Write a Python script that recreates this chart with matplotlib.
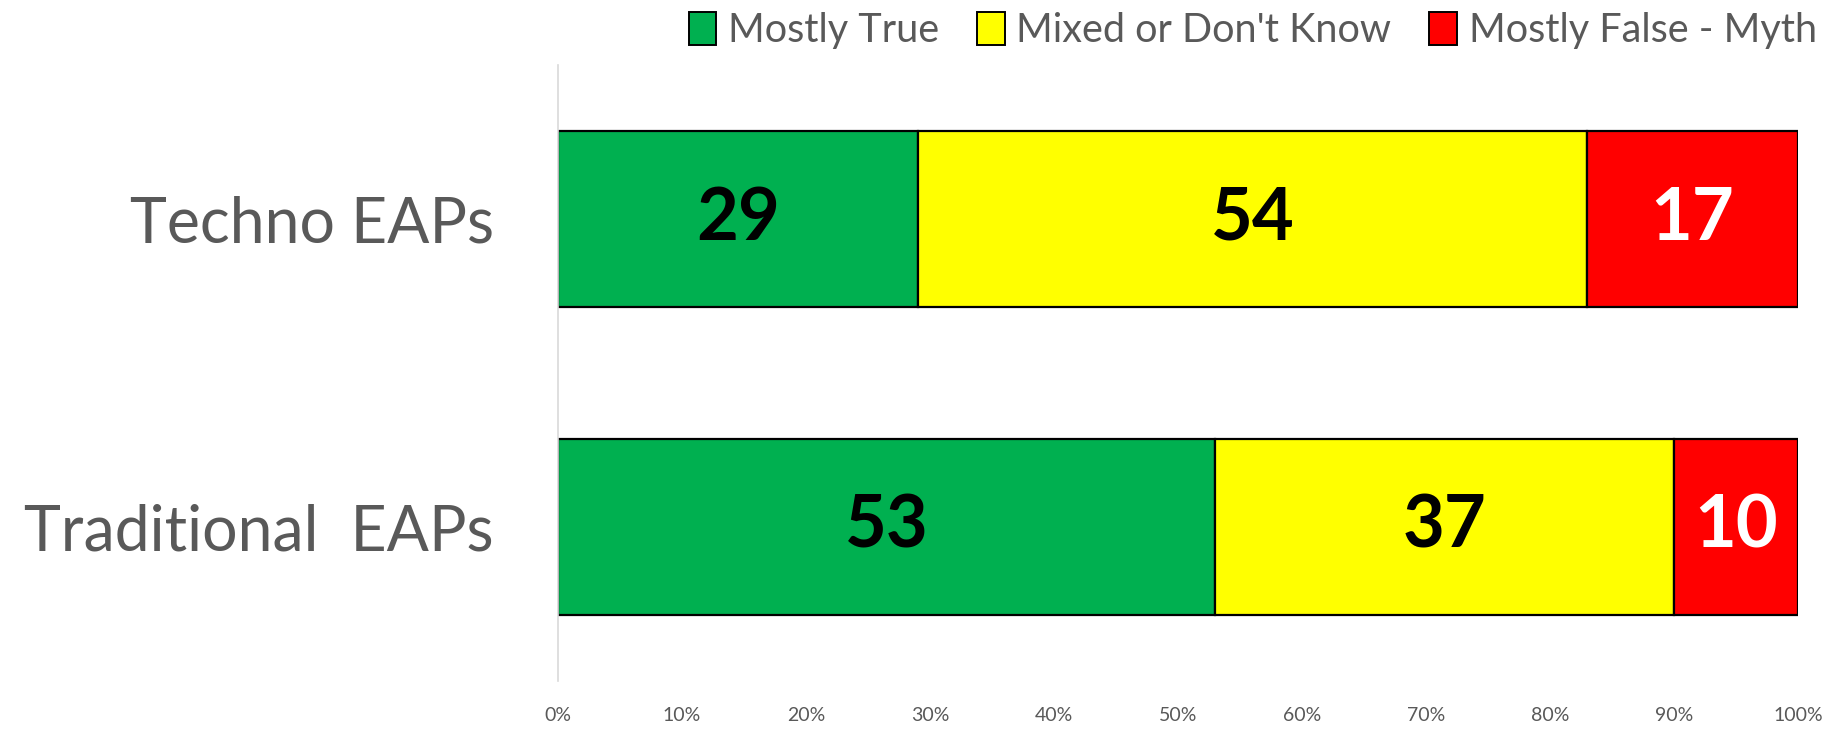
import matplotlib
matplotlib.use("Agg")
import matplotlib.pyplot as plt
from matplotlib.patches import Patch

# Survey answers by EAP type (percent of respondents)
groups = ["Traditional  EAPs", "Techno EAPs"]
answers = ["Mostly True", "Mixed or Don't Know", "Mostly False - Myth"]
mostly_true = [53, 29]
mixed = [37, 54]
mostly_false = [10, 17]
xticks = [0, 10, 20, 30, 40, 50, 60, 70, 80, 90, 100]

colors = ["#00B050", "#FFFF00", "#FF0000"]
label_colors = ["black", "black", "white"]
GREY = "#595959"

plt.rcParams["font.family"] = ["Lato", "DejaVu Sans"]

fig = plt.figure(figsize=(18.45, 7.29), dpi=100)
ax = fig.add_axes([0.3024, 0.0658, 0.6721, 0.845])

ypos = range(len(groups))
left = [0] * len(groups)
for series, color, tcol in zip([mostly_true, mixed, mostly_false], colors, label_colors):
    ax.barh(ypos, series, left=left, height=0.57, color=color,
            edgecolor="black", linewidth=1.6)
    for y, v, l in zip(ypos, series, left):
        ax.text(l + v / 2, y, f"{v}", ha="center", va="center",
                fontsize=52, fontweight="bold", color=tcol)
    left = [a + b for a, b in zip(left, series)]

ax.set_xlim(0, 100)
ax.set_ylim(-0.5, 1.5)
ax.set_yticks(list(ypos))
ax.set_yticklabels(groups, fontsize=45, color=GREY)
ax.set_xticks(xticks)
ax.set_xticklabels([f"{t}%" for t in xticks], fontsize=14, color=GREY)
ax.tick_params(axis="both", length=0)
ax.tick_params(axis="y", pad=46)
ax.tick_params(axis="x", pad=19)

for side in ["top", "right", "bottom"]:
    ax.spines[side].set_visible(False)
ax.spines["left"].set_color("#D9D9D9")
ax.spines["left"].set_linewidth(1.2)

handles = [Patch(facecolor=c, edgecolor="black", linewidth=1.4) for c in colors]
fig.legend(handles, answers, loc="center right", bbox_to_anchor=(1.004, 0.958),
           ncol=3, frameon=False, fontsize=28.5, labelcolor=GREY,
           handlelength=0.7, handleheight=0.9, handletextpad=0.3, columnspacing=0.95)

fig.savefig("out.png", dpi=100)
